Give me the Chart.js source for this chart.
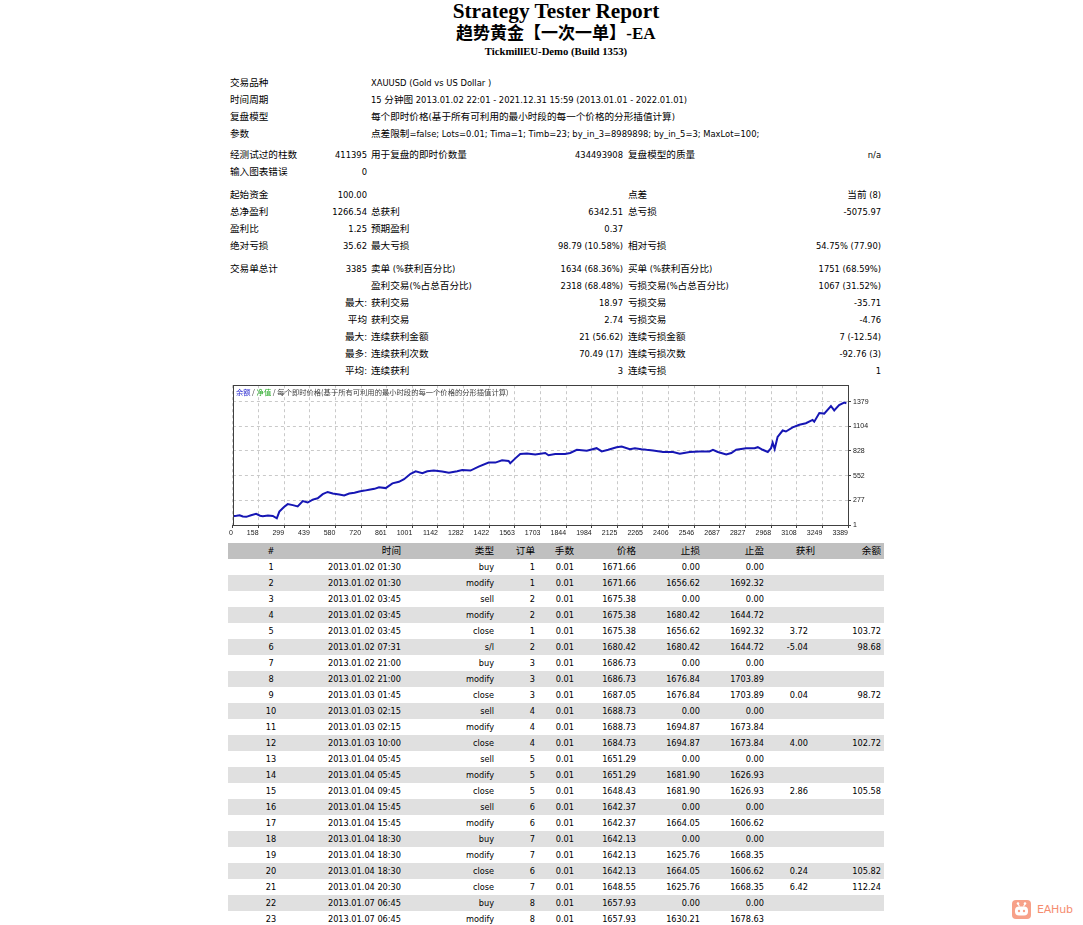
<!DOCTYPE html>
<html><head><meta charset="utf-8">
<script src="https://cdn.jsdelivr.net/npm/chart.js@4.4.1/dist/chart.umd.min.js"></script>
<style>
@font-face{font-family:"CJKTitle";src:local("Noto Sans CJK SC Bold"),local("NotoSansCJKsc-Bold"),local("Noto Sans CJK SC");font-weight:bold;ascent-override:95%;descent-override:20%;line-gap-override:0%;}
html,body{margin:0;padding:0;background:#fff;}
body{width:1083px;height:925px;overflow:hidden;position:relative;font-family:"DejaVu Sans","Noto Sans CJK SC",sans-serif;font-size:8.2px;color:#000;}
.c{font-family:"Noto Sans CJK SC";font-size:9.6px;line-height:10px;}
.hd{position:absolute;left:228px;width:656px;text-align:center;font-family:"Liberation Serif",serif;font-weight:bold;color:#000;white-space:nowrap;}
.hd .c{font-family:"CJKTitle","Noto Sans CJK SC";font-size:17px;font-weight:bold;line-height:17px;}
#t1{top:-0.5px;font-size:21.3px;line-height:22px;height:22px;}
#t2{top:24px;font-size:17px;line-height:20px;height:20px;}
#t3{top:45px;font-size:10.7px;line-height:12px;height:12px;}
table{position:absolute;left:228px;width:656px;table-layout:fixed;border-collapse:collapse;}
td{padding:0;white-space:nowrap;overflow:visible;}
#sum{top:74.5px;font-size:8.4px;}
#sum tr.r td{height:17px;line-height:17px;}
#sum tr.s td{height:4px;line-height:0;font-size:0;}
#sum tr.s6 td{height:6px;line-height:0;font-size:0;}
#sum td.l{padding-left:2px;text-align:left;}
#sum td.v{padding-right:2px;text-align:right;}
#sum td.l5{padding-left:3px;text-align:left;}
#sum td.v6{padding-right:3px;text-align:right;}
#trades{top:543px;}
#trades tr td{height:16px;line-height:16px;text-align:right;padding-right:2px;}
#trades tr td:first-child{text-align:center;padding-right:0;}
#trades tr td.pf{padding-right:9px;}
#trades tr td.bl{padding-right:3px;}
#trades tr.h{background:#C0C0C0;}
#trades tr.h td.pf{padding-right:2px;}
#trades tr.g{background:#E0E0E0;}
#chartBox{position:absolute;left:228px;top:379px;width:656px;height:162px;}
#wm{position:absolute;left:1012px;top:899px;height:20px;display:flex;align-items:center;}
#wm .txt{margin-left:6px;font-family:"DejaVu Sans",sans-serif;font-size:11px;color:#f58d70;letter-spacing:-0.2px;}
</style>
</head>
<body>
<div class="hd" id="t1">Strategy Tester Report</div>
<div class="hd" id="t2">趋势黄金【一次一单】-EA</div>
<div class="hd" id="t3">TickmillEU-Demo (Build 1353)</div>

<table id="sum">
<colgroup><col style="width:72px"><col style="width:69px"><col style="width:171px"><col style="width:85px"><col style="width:115px"><col style="width:144px"></colgroup>
<tr class="r"><td class="l" colspan="2">交易品种</td><td class="l" colspan="4">XAUUSD (Gold vs US Dollar )</td></tr>
<tr class="r"><td class="l" colspan="2">时间周期</td><td class="l" colspan="4">15 分钟图 2013.01.02 22:01 - 2021.12.31 15:59 (2013.01.01 - 2022.01.01)</td></tr>
<tr class="r"><td class="l" colspan="2">复盘模型</td><td class="l" colspan="4">每个即时价格(基于所有可利用的最小时段的每一个价格的分形插值计算)</td></tr>
<tr class="r"><td class="l" colspan="2">参数</td><td class="l" colspan="4">点差限制=false; Lots=0.01; Tima=1; Timb=23; by_in_3=8989898; by_in_5=3; MaxLot=100;</td></tr>
<tr class="s"><td colspan="6"></td></tr>
<tr class="r"><td class="l">经测试过的柱数</td><td class="v">411395</td><td class="l">用于复盘的即时价数量</td><td class="v">434493908</td><td class="l5">复盘模型的质量</td><td class="v6">n/a</td></tr>
<tr class="r"><td class="l">输入图表错误</td><td class="v">0</td><td></td><td></td><td></td><td></td></tr>
<tr class="s6"><td colspan="6"></td></tr>
<tr class="r"><td class="l">起始资金</td><td class="v">100.00</td><td></td><td></td><td class="l5">点差</td><td class="v6">当前 (8)</td></tr>
<tr class="r"><td class="l">总净盈利</td><td class="v">1266.54</td><td class="l">总获利</td><td class="v">6342.51</td><td class="l5">总亏损</td><td class="v6">-5075.97</td></tr>
<tr class="r"><td class="l">盈利比</td><td class="v">1.25</td><td class="l">预期盈利</td><td class="v">0.37</td><td></td><td></td></tr>
<tr class="r"><td class="l">绝对亏损</td><td class="v">35.62</td><td class="l">最大亏损</td><td class="v">98.79 (10.58%)</td><td class="l5">相对亏损</td><td class="v6">54.75% (77.90)</td></tr>
<tr class="s6"><td colspan="6"></td></tr>
<tr class="r"><td class="l">交易单总计</td><td class="v">3385</td><td class="l">卖单 (%获利百分比)</td><td class="v">1634 (68.36%)</td><td class="l5">买单 (%获利百分比)</td><td class="v6">1751 (68.59%)</td></tr>
<tr class="r"><td></td><td></td><td class="l">盈利交易(%占总百分比)</td><td class="v">2318 (68.48%)</td><td class="l5">亏损交易(%占总百分比)</td><td class="v6">1067 (31.52%)</td></tr>
<tr class="r"><td></td><td class="v">最大:</td><td class="l">获利交易</td><td class="v">18.97</td><td class="l5">亏损交易</td><td class="v6">-35.71</td></tr>
<tr class="r"><td></td><td class="v">平均</td><td class="l">获利交易</td><td class="v">2.74</td><td class="l5">亏损交易</td><td class="v6">-4.76</td></tr>
<tr class="r"><td></td><td class="v">最大:</td><td class="l">连续获利金额</td><td class="v">21 (56.62)</td><td class="l5">连续亏损金额</td><td class="v6">7 (-12.54)</td></tr>
<tr class="r"><td></td><td class="v">最多:</td><td class="l">连续获利次数</td><td class="v">70.49 (17)</td><td class="l5">连续亏损次数</td><td class="v6">-92.76 (3)</td></tr>
<tr class="r"><td></td><td class="v">平均:</td><td class="l">连续获利</td><td class="v">3</td><td class="l5">连续亏损</td><td class="v6">1</td></tr>
</table>

<div id="chartBox"><canvas id="cv" width="656" height="162" style="width:656px;height:162px;display:block"></canvas></div>

<table id="trades">
<colgroup><col style="width:86px"><col style="width:89px"><col style="width:93px"><col style="width:41px"><col style="width:39px"><col style="width:62px"><col style="width:64px"><col style="width:64px"><col style="width:51px"><col style="width:67px"></colgroup>
<tbody id="tbody"></tbody>
</table>

<div id="wm">
<svg width="19" height="19" viewBox="0 0 19 19">
<rect x="0" y="0" width="19" height="19" rx="4" fill="#f7a189"/>
<circle cx="6" cy="3.5" r="1.3" fill="#fff"/><circle cx="13" cy="3.5" r="1.3" fill="#fff"/>
<line x1="6" y1="4" x2="7.5" y2="6.5" stroke="#fff" stroke-width="1.2"/><line x1="13" y1="4" x2="11.5" y2="6.5" stroke="#fff" stroke-width="1.2"/>
<rect x="3" y="6.5" width="13" height="9" rx="4" fill="#fff"/>
<circle cx="7" cy="11" r="1.2" fill="#f7a189"/><circle cx="12" cy="11" r="1.2" fill="#f7a189"/>
</svg>
<span class="txt">EAHub</span>
</div>

<script>
// ---------------- chart data ----------------
const balanceTrade = [0,20,37,55,74,100,128,150,165,193,220,242,256,280,302,330,357,385,412,440,467,495,522,550,586,613,641,670,696,725,750,780,805,842,879,915,943,979,1007,1044,1071,1107,1153,1190,1236,1263,1309,1354,1409,1446,1483,1519,1528,1556,1583,1620,1666,1721,1739,1776,1830,1858,1895,1950,2004,2032,2068,2114,2142,2187,2215,2251,2279,2315,2370,2425,2462,2517,2571,2626,2645,2672,2718,2746,2773,2828,2874,2892,2919,2947,2965,2974,2985,3001,3029,3047,3084,3121,3157,3194,3203,3231,3258,3295,3313,3340,3368,3380];
const balanceValue = [100,104,110,96,92,110,125,104,100,108,102,76,150,200,234,223,208,268,252,284,300,345,370,352,341,330,352,362,376,385,394,405,423,413,466,483,512,573,601,580,601,609,598,584,601,616,609,652,698,698,723,716,691,745,794,798,788,805,780,794,794,805,841,830,859,823,841,870,877,848,859,848,841,834,816,816,798,816,823,823,841,816,788,805,841,859,859,870,841,816,859,920,850,984,1056,1045,1091,1120,1137,1174,1155,1252,1245,1330,1281,1341,1367,1360];
const xTickLabels = ['0','158','299','439','580','720','861','1001','1142','1282','1422','1563','1703','1844','1984','2125','2265','2406','2546','2687','2827','2968','3108','3249','3389'];
const yTickValues = [1,277,552,828,1104,1379];
const xMax = 3389;
const yMin = 1, yMax = 1562;

// ---------------- trades table data ----------------
const tNo    = [1,2,3,4,5,6,7,8,9,10,11,12,13,14,15,16,17,18,19,20,21,22,23];
const tTime  = ['2013.01.02 01:30','2013.01.02 01:30','2013.01.02 03:45','2013.01.02 03:45','2013.01.02 03:45','2013.01.02 07:31','2013.01.02 21:00','2013.01.02 21:00','2013.01.03 01:45','2013.01.03 02:15','2013.01.03 02:15','2013.01.03 10:00','2013.01.04 05:45','2013.01.04 05:45','2013.01.04 09:45','2013.01.04 15:45','2013.01.04 15:45','2013.01.04 18:30','2013.01.04 18:30','2013.01.04 18:30','2013.01.04 20:30','2013.01.07 06:45','2013.01.07 06:45'];
const tType  = ['buy','modify','sell','modify','close','s/l','buy','modify','close','sell','modify','close','sell','modify','close','sell','modify','buy','modify','close','close','buy','modify'];
const tOrder = [1,1,2,2,1,2,3,3,3,4,4,4,5,5,5,6,6,7,7,6,7,8,8];
const tSize  = ['0.01','0.01','0.01','0.01','0.01','0.01','0.01','0.01','0.01','0.01','0.01','0.01','0.01','0.01','0.01','0.01','0.01','0.01','0.01','0.01','0.01','0.01','0.01'];
const tPrice = ['1671.66','1671.66','1675.38','1675.38','1675.38','1680.42','1686.73','1686.73','1687.05','1688.73','1688.73','1684.73','1651.29','1651.29','1648.43','1642.37','1642.37','1642.13','1642.13','1642.13','1648.55','1657.93','1657.93'];
const tSL    = ['0.00','1656.62','0.00','1680.42','1656.62','1680.42','0.00','1676.84','1676.84','0.00','1694.87','1694.87','0.00','1681.90','1681.90','0.00','1664.05','0.00','1625.76','1664.05','1625.76','0.00','1630.21'];
const tTP    = ['0.00','1692.32','0.00','1644.72','1692.32','1644.72','0.00','1703.89','1703.89','0.00','1673.84','1673.84','0.00','1626.93','1626.93','0.00','1606.62','0.00','1668.35','1606.62','1668.35','0.00','1678.63'];
const tProfit= ['','','','','3.72','-5.04','','','0.04','','','4.00','','','2.86','','','','','0.24','6.42','',''];
const tBal   = ['','','','','103.72','98.68','','','98.72','','','102.72','','','105.58','','','','','105.82','112.24','',''];
const tHeader= ['#','时间','类型','订单','手数','价格','止损','止盈','获利','余额'];

// build trades table
const tb = document.getElementById('tbody');
function addRow(cells, cls){
  const tr = document.createElement('tr');
  if (cls) tr.className = cls;
  cells.forEach((v,i)=>{
    const td = document.createElement('td');
    td.textContent = v;
    if (i===8) td.className='pf';
    if (i===9) td.className='bl';
    tr.appendChild(td);
  });
  tb.appendChild(tr);
}
addRow(tHeader,'h');
tNo.forEach((n,i)=>{
  addRow([String(n),tTime[i],tType[i],String(tOrder[i]),tSize[i],tPrice[i],tSL[i],tTP[i],tProfit[i],tBal[i]], (i%2===1)?'g':'');
});

// wrap CJK runs in spans so they get their own size
function wrapCJK(root){
  const re = /[\u3000-\u303f\u4e00-\u9fff\uff00-\uffef]+/g;
  const walker = document.createTreeWalker(root, NodeFilter.SHOW_TEXT);
  const nodes = [];
  while (walker.nextNode()) nodes.push(walker.currentNode);
  nodes.forEach(n=>{
    const s = n.nodeValue;
    if (!re.test(s)) return;
    re.lastIndex = 0;
    const frag = document.createDocumentFragment();
    let last = 0, m;
    while ((m = re.exec(s))){
      if (m.index>last) frag.appendChild(document.createTextNode(s.slice(last,m.index)));
      const sp = document.createElement('span'); sp.className='c'; sp.textContent=m[0];
      frag.appendChild(sp);
      last = m.index + m[0].length;
    }
    if (last<s.length) frag.appendChild(document.createTextNode(s.slice(last)));
    n.parentNode.replaceChild(frag,n);
  });
}
wrapCJK(document.getElementById('sum'));
wrapCJK(document.getElementById('trades'));
wrapCJK(document.getElementById('t2'));

// ---------------- chart ----------------
const framePlugin = {
  id:'frame',
  afterDraw(chart){
    const {ctx, chartArea:a} = chart;
    ctx.save();
    ctx.strokeStyle = '#404040';
    ctx.lineWidth = 1;
    ctx.strokeRect(Math.round(a.left)+0.5, Math.round(a.top)+0.5, Math.round(a.right-a.left), Math.round(a.bottom-a.top));
    const parts = [['余额','#2a2ad0'],[' / ','#404040'],['净值','#22a822'],[' / 每个即时价格(基于所有可利用的最小时段的每一个价格的分形插值计算)','#404040']];
    ctx.font = '7.3px "Noto Sans CJK SC"';
    ctx.textBaseline = 'middle';
    let x = a.left + 3;
    const y = a.top + 7;
    parts.forEach(([t,c])=>{ ctx.fillStyle=c; ctx.fillText(t,x,y); x += ctx.measureText(t).width; });
    ctx.restore();
  }
};

new Chart(document.getElementById('cv'), {
  type:'line',
  data:{
    datasets:[{
      label:'余额',
      data: balanceTrade.map((t,i)=>({x:t, y:balanceValue[i]})),
      borderColor:'#1616b4',
      borderWidth:2,
      pointRadius:0,
      tension:0,
      fill:false
    }]
  },
  options:{
    responsive:false,
    animation:false,
    layout:{padding:{left:3,top:2,right:0,bottom:0}},
    plugins:{legend:{display:false}, tooltip:{enabled:false}},
    scales:{
      x:{
        type:'linear', min:0, max:xMax,
        afterBuildTicks(scale){ scale.ticks = xTickLabels.map((l,i)=>({value: i*xMax/(xTickLabels.length-1)})); },
        afterFit(scale){ scale.height = 16; },
        ticks:{
          autoSkip:false, maxRotation:0, minRotation:0, align:'end', padding:1,
          font:{family:'Liberation Sans', size:7}, color:'#202020',
          callback:(v,i)=>xTickLabels[i]
        },
        grid:{color:'#c9c9c9', lineWidth:1, tickLength:3, tickColor:'#404040', drawTicks:true},
        border:{display:true, color:'#404040', width:1, dash:[3,3]}
      },
      y:{
        type:'linear', position:'right', min:yMin, max:yMax,
        afterBuildTicks(scale){ scale.ticks = yTickValues.map(v=>({value:v})); },
        afterFit(scale){ scale.width = 36; },
        ticks:{
          autoSkip:false, padding:2, crossAlign:'near',
          font:{family:'Liberation Sans', size:7}, color:'#202020',
          callback:(v)=>String(v)
        },
        grid:{color:'#c9c9c9', lineWidth:1, tickLength:3, tickColor:'#404040', drawTicks:true},
        border:{display:true, color:'#404040', width:1, dash:[3,3]}
      }
    }
  },
  plugins:[framePlugin]
});
</script>
</body></html>
